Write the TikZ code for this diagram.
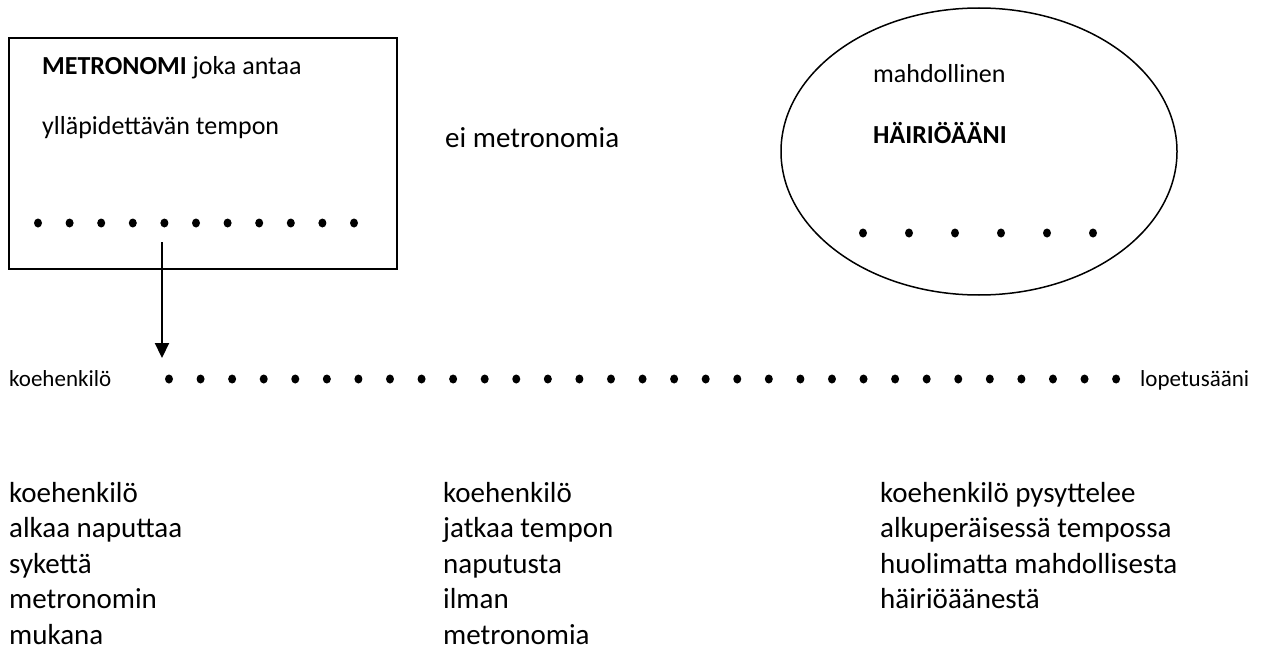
\documentclass[tikz,border=0pt]{standalone}
\usepackage{fontspec}
\setmainfont{Carlito}
\usetikzlibrary{arrows.meta,shapes.geometric}
\begin{document}
\begin{tikzpicture}[x=1pt,y=-1pt,
  boxtxt/.style={anchor=base west, inner sep=0pt, font=\fontsize{26}{31}\selectfont},
  bigtxt/.style={anchor=base west, inner sep=0pt, font=\fontsize{29}{35.5}\selectfont},
  smalltxt/.style={anchor=base west, inner sep=0pt, font=\fontsize{23}{27}\selectfont},
  dotnode/.style={ellipse, fill=black, inner sep=0pt, minimum width=8pt, minimum height=9pt},
]
\useasboundingbox (0,0) rectangle (1261,650);
% metronome box
\node[draw, line width=2pt, anchor=north west, inner sep=0pt, outer sep=0pt,
      minimum width=388pt, minimum height=231pt] (metro) at (9,38) {};
\node[boxtxt] (m1) at (42,75) {\textbf{METRONOMI} joka antaa};
\node[boxtxt] (m2) at (42,135) {ylläpidettävän tempon};
\foreach \i in {0,...,10} \node[dotnode] (bd\i) at ({38+31.6*\i},223) {};
% middle label
\node[bigtxt] (ei) at (445,147) {ei metronomia};
% noise ellipse
\node[draw, ellipse, line width=1.5pt, inner sep=0pt, minimum width=396pt, minimum height=287pt] (noise) at (979,151.5) {};
\node[boxtxt] (n1) at (873,83) {mahdollinen};
\node[boxtxt] (n2) at (873,143) {\textbf{HÄIRIÖÄÄNI}};
\foreach \i in {0,...,5} \node[dotnode] (ed\i) at ({863+46*\i},233) {};
% main line
\node[smalltxt] (start) at (9,386) {koehenkilö};
\foreach \i in {0,...,30} \node[dotnode] (md\i) at ({169+31.57*\i},379) {};
\node[smalltxt] (stop) at (1140,386) {lopetusääni};
% arrow
\coordinate (astart) at (162,242);
\coordinate (aend) at (162,358);
\draw[line width=2.2pt, -{Triangle[width=14pt,length=15pt]}] (astart) -- (aend);
% bottom columns
\foreach \t [count=\i from 0] in {koehenkilö, alkaa naputtaa, sykettä, metronomin, mukana}
  \node[bigtxt] (ca\i) at (9,{502+35.5*\i}) {\t};
\foreach \t [count=\i from 0] in {koehenkilö, jatkaa tempon, naputusta, ilman, metronomia}
  \node[bigtxt] (cb\i) at (443,{502+35.5*\i}) {\t};
\foreach \t [count=\i from 0] in {koehenkilö pysyttelee, alkuperäisessä tempossa, huolimatta mahdollisesta, häiriöäänestä}
  \node[bigtxt] (cc\i) at (880,{502+35.5*\i}) {\t};
\end{tikzpicture}
\end{document}
